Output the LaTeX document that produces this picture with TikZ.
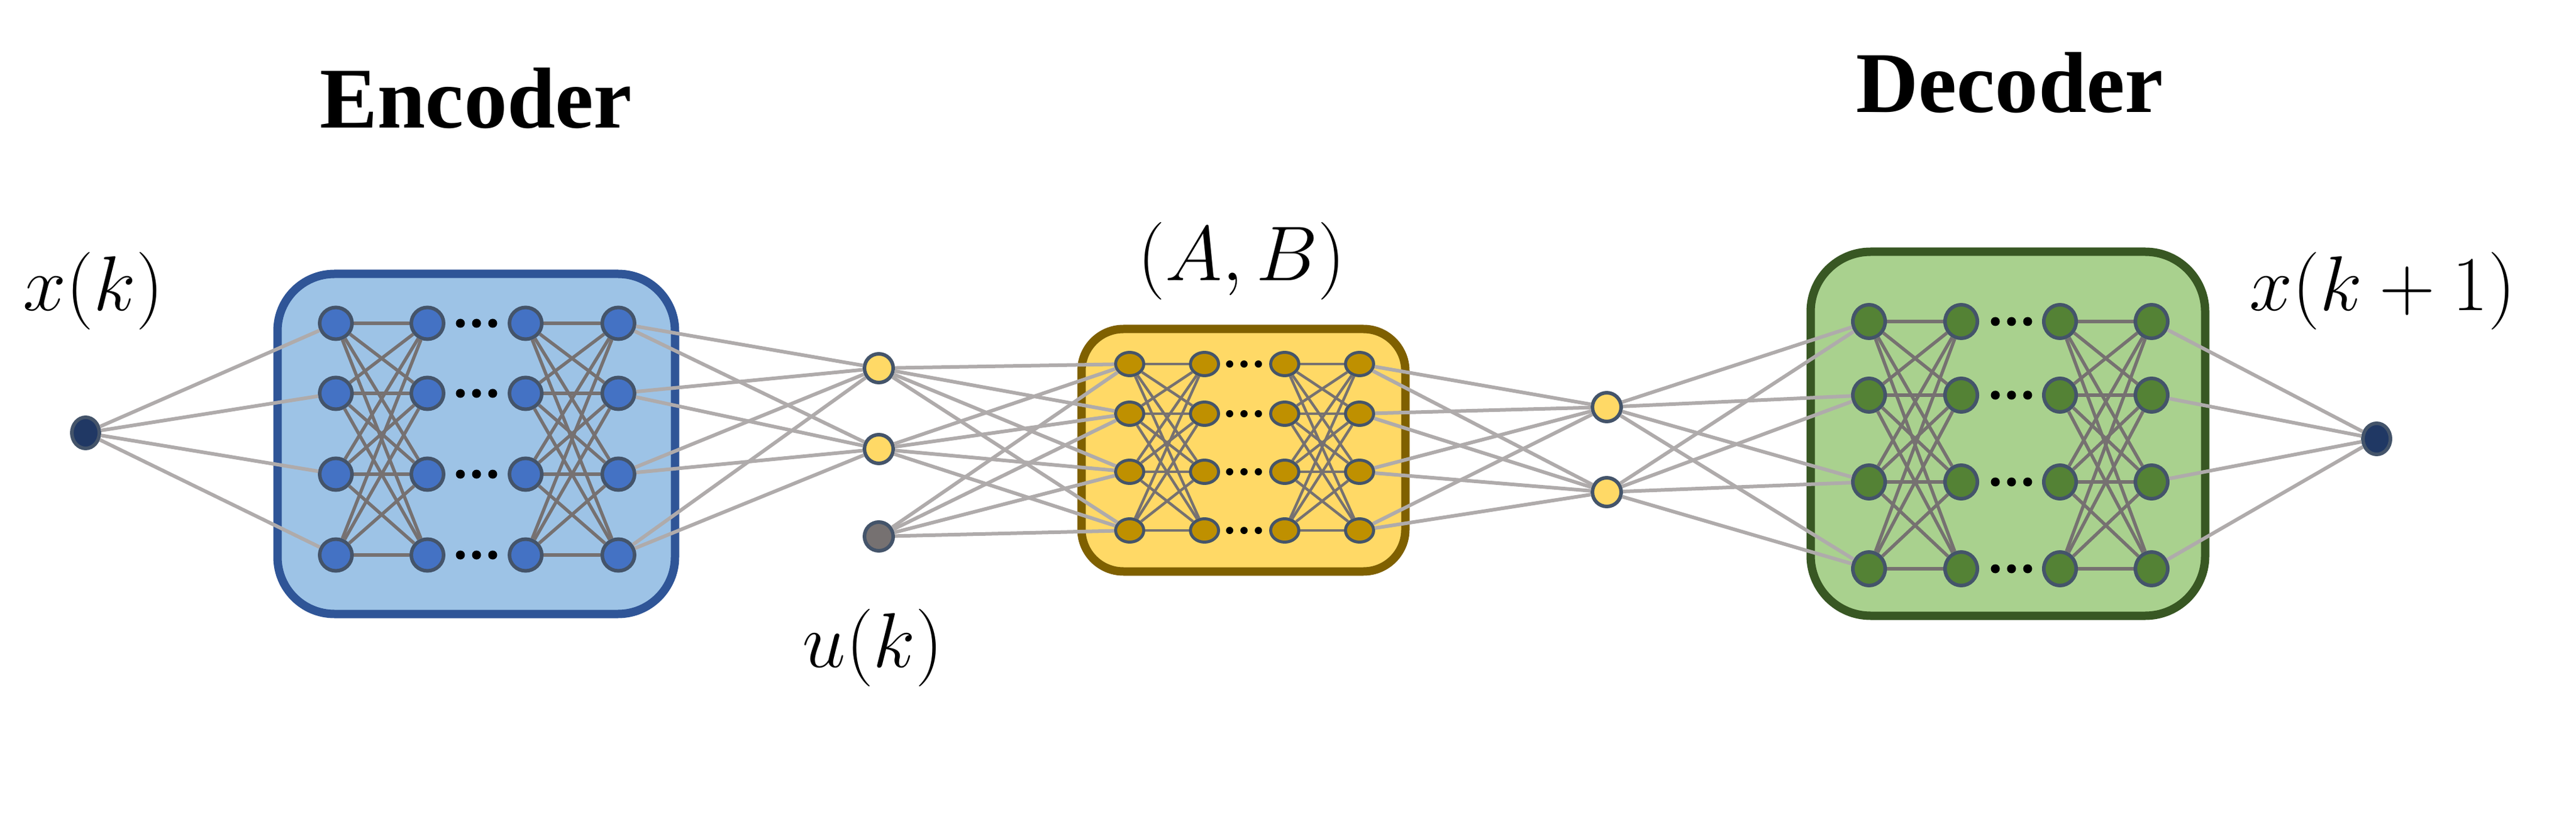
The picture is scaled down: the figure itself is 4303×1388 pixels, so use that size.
\RequirePackage{fix-cm}
\documentclass[tikz,border=0pt]{standalone}
\usepackage{fontspec}
\newfontfamily\titlefont{Liberation Serif}
\usepackage{tikz}
\usetikzlibrary{shapes.geometric}
\definecolor{encfill}{HTML}{9DC3E6}
\definecolor{encedge}{HTML}{2F5597}
\definecolor{encnode}{HTML}{4472C4}
\definecolor{abfill}{HTML}{FFD966}
\definecolor{abedge}{HTML}{7F6000}
\definecolor{abnode}{HTML}{BF9000}
\definecolor{decfill}{HTML}{A9D18E}
\definecolor{decedge}{HTML}{385723}
\definecolor{decnode}{HTML}{548235}
\definecolor{nodeedge}{HTML}{44546A}
\definecolor{ionode}{HTML}{203864}
\definecolor{unode}{HTML}{767171}
\definecolor{linkgray}{HTML}{AFABAB}
\definecolor{innergray}{HTML}{767171}
\tikzstyle{neuron} = [ellipse, inner sep=0pt, line width=0.6mm, draw=nodeedge]
\tikzstyle{block} = [line width=1.4mm]
\tikzstyle{link} = [line width=0.6mm, draw=linkgray]
\tikzstyle{innerlink} = [line width=0.55mm, draw=innergray]
\tikzstyle{title} = [inner sep=0pt, anchor=base, font={\titlefont\bfseries\fontsize{41.1}{49}\selectfont}]
\tikzstyle{var} = [inner sep=0pt, font={\fontsize{36.9}{44}\selectfont}]

\begin{document}
\begin{tikzpicture}[x=0.1mm, y=-0.1mm]
				\useasboundingbox (0,0) rectangle (4303,1388);

				% blocks
				\draw[block, rounded corners=9.5mm, draw=encedge, fill=encfill] (463.5,457.5) rectangle (1127.5,1025.5);
				\draw[block, rounded corners=7mm, draw=abedge, fill=abfill] (1806.5,549.5) rectangle (2347.5,954.5);
				\draw[block, rounded corners=10mm, draw=decedge, fill=decfill] (3024.5,420.5) rectangle (3683.5,1028.5);

				% labels
				\node[title] (enc) at (795,214) {Encoder};
				\node[title] (dec) at (3357,188) {Decoder};
				\node[var] (t-x-k) at (156,486) {$x(k)$};
				\node[var] (t-u-k) at (1458,1082) {$u(k)$};
				\node[var] (t-a-b) at (2074,436) {$(A,B)$};
				\node[var] (t-x-k1) at (3980,486) {$x(k+1)$};

				% neurons
				\node[neuron, fill=ionode, minimum width=4.6mm, minimum height=5.2mm] (x-k) at (143,723) {};
				\node[neuron, fill=ionode, minimum width=4.6mm, minimum height=5.2mm] (x-k1) at (3970,733) {};
				\node[neuron, fill=abfill, minimum size=4.8mm] (z-1) at (1468,615) {};
				\node[neuron, fill=abfill, minimum size=4.8mm] (z-2) at (1468,750) {};
				\node[neuron, fill=unode, minimum size=4.8mm] (u-k) at (1468,896) {};
				\node[neuron, fill=abfill, minimum size=4.8mm] (zn-1) at (2684,680) {};
				\node[neuron, fill=abfill, minimum size=4.8mm] (zn-2) at (2684,822) {};
				\foreach \c/\x in {1/561,2/714,3/878,4/1033}
					\foreach \r/\y in {1/540,2/657,3/792,4/927}
						\node[neuron, fill=encnode, minimum width=5.4mm, minimum height=5.3mm] (e-\c-\r) at (\x,\y) {};
				\foreach \c/\x in {1/1887,2/2012,3/2146,4/2271}
					\foreach \r/\y in {1/608,2/691,3/788,4/886}
						\node[neuron, line width=0.5mm, fill=abnode, minimum width=4.7mm, minimum height=3.9mm] (ab-\c-\r) at (\x,\y) {};
				\foreach \c/\x in {1/3122,2/3276,3/3441,4/3594}
					\foreach \r/\y in {1/537,2/660,3/805,4/950}
						\node[neuron, fill=decnode, minimum width=5.4mm, minimum height=5.6mm] (d-\c-\r) at (\x,\y) {};

				% dots
				\foreach \y in {540,657,792,927}
					\foreach \x in {769,796,823}
						\fill (\x,\y) circle[radius=0.75mm];
				\foreach \y in {608,691,788,886}
					\foreach \x in {2054,2078,2102}
						\fill (\x,\y) circle[radius=0.6mm];
				\foreach \y in {537,660,805,950}
					\foreach \x in {3333,3360,3387}
						\fill (\x,\y) circle[radius=0.75mm];

				% links
				\foreach \i in {1,...,4} {
					\draw[link] (x-k) -- (e-1-\i);
					\draw[link] (e-4-\i) -- (z-1);
					\draw[link] (e-4-\i) -- (z-2);
					\draw[link] (z-1) -- (ab-1-\i);
					\draw[link] (z-2) -- (ab-1-\i);
					\draw[link] (u-k) -- (ab-1-\i);
					\draw[link] (ab-4-\i) -- (zn-1);
					\draw[link] (ab-4-\i) -- (zn-2);
					\draw[link] (zn-1) -- (d-1-\i);
					\draw[link] (zn-2) -- (d-1-\i);
					\draw[link] (d-4-\i) -- (x-k1);
				}
				\foreach \i in {1,...,4}
					\foreach \j in {1,...,4} {
						\draw[innerlink] (e-1-\i) -- (e-2-\j);
						\draw[innerlink] (e-3-\i) -- (e-4-\j);
						\draw[innerlink, line width=0.45mm] (ab-1-\i) -- (ab-2-\j);
						\draw[innerlink, line width=0.45mm] (ab-3-\i) -- (ab-4-\j);
						\draw[innerlink] (d-1-\i) -- (d-2-\j);
						\draw[innerlink] (d-3-\i) -- (d-4-\j);
					}
			\end{tikzpicture}
\end{document}
